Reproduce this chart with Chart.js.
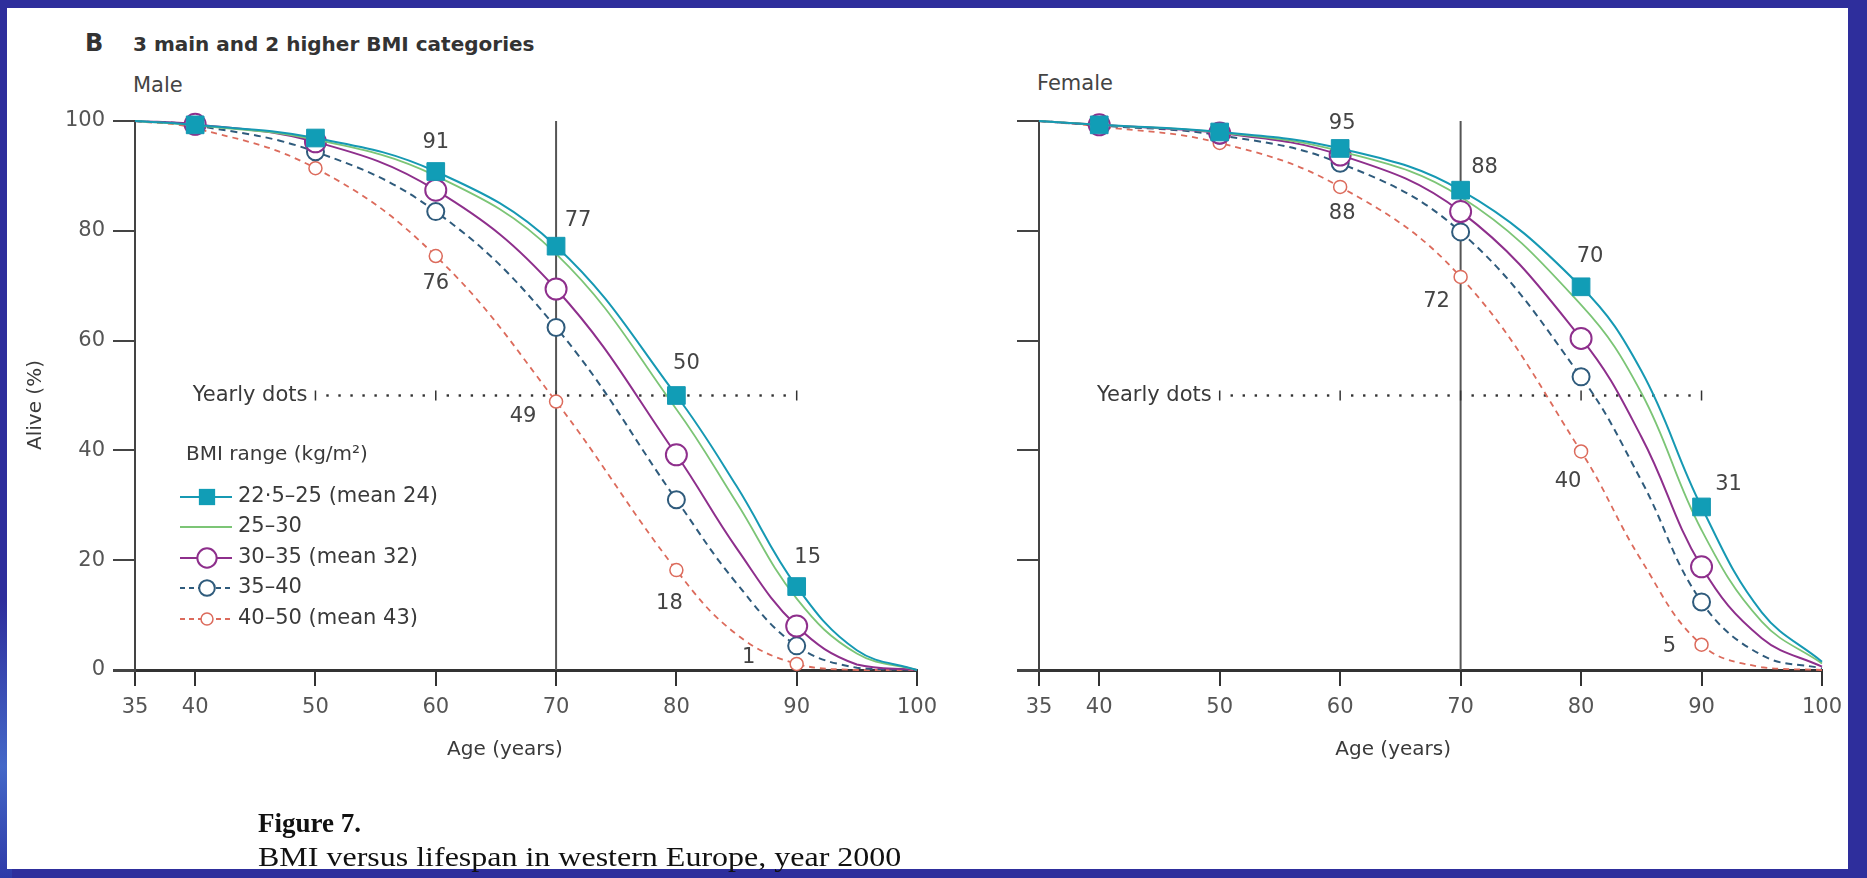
<!DOCTYPE html>
<html>
<head>
<meta charset="utf-8">
<script src="https://cdn.jsdelivr.net/npm/chart.js@4.4.1/dist/chart.umd.min.js"></script>
<style>
  html, body { margin: 0; padding: 0; }
  body { width: 1867px; height: 878px; overflow: hidden; position: relative; background: #2e2e9c; font-family: 'DejaVu Sans', sans-serif; }
  #glow { position: absolute; left: 0; top: 600px; width: 12px; height: 278px; background: linear-gradient(to bottom, #2e2e9c, #4468c8 60%, #2e3aa8); }
  #page { position: absolute; left: 7px; top: 8px; width: 1841px; height: 861px; background: #fff; }
  canvas { position: absolute; top: 0; }
  .txt { position: absolute; white-space: nowrap; color: #3a3a3a; }
  .cap { font-family: 'Liberation Serif', 'Times New Roman', serif; color: #111; font-size: 27px; line-height: 30px; }
</style>
</head>
<body>
<div id="glow"></div>
<div id="page"></div>

<div class="txt" style="left:85px; top:29px; font-size:24px; line-height:28px; font-weight:bold; color:#333;">B</div>
<div class="txt" style="left:133px; top:32px; font-size:20px; line-height:24px; font-weight:bold; color:#333;">3 main and 2 higher BMI categories</div>
<div class="txt" style="left:133px; top:72px; font-size:21px; line-height:26px; color:#444;">Male</div>
<div class="txt" style="left:1037px; top:70px; font-size:21px; line-height:26px; color:#444;">Female</div>

<canvas id="maleChart" width="960" height="878" style="left:0px;"></canvas>
<canvas id="femaleChart" width="934" height="878" style="left:933px;"></canvas>

<div class="txt cap" style="left:258px; top:808px; font-weight:bold;">Figure 7.</div>
<div class="txt cap" style="left:258px; top:842px; transform: scaleX(1.185); transform-origin: left center;">BMI versus lifespan in western Europe, year 2000</div>

<script>
// ---- data ----
const ages = [35, 40, 50, 60, 70, 80, 85, 90, 95, 100];
const markerAges = [40, 50, 60, 70, 80, 90];
const xTicks = [35, 40, 50, 60, 70, 80, 90, 100];
const seriesNames = ['22·5–25 (mean 24)', '25–30', '30–35 (mean 32)', '35–40', '40–50 (mean 43)'];

const maleBmi22 = [100, 99.3, 96.9, 90.8, 77.2, 50.0, 33.5, 15.2, 3.6, 0];
const maleBmi25 = [100, 99.2, 96.6, 90.0, 75.8, 47.5, 30.5, 13.0, 3.0, 0];
const maleBmi30 = [100, 99.4, 96.2, 87.4, 69.4, 39.2, 22.2, 8.0, 1.0, 0];
const maleBmi35 = [100, 99.2, 94.4, 83.5, 62.4, 31.0, 15.8, 4.4, 0.4, 0];
const maleBmi40 = [100, 98.7, 91.4, 75.4, 48.9, 18.2, 6.5, 1.1, 0, 0];

const femaleBmi22 = [100, 99.3, 98.0, 95.0, 87.4, 69.8, 54.5, 29.7, 10.5, 1.5];
const femaleBmi25 = [100, 99.3, 97.9, 94.5, 86.2, 66.5, 50.5, 25.5, 8.8, 1.2];
const femaleBmi30 = [100, 99.3, 97.8, 93.8, 83.5, 60.4, 42.5, 18.8, 5.8, 0.6];
const femaleBmi35 = [100, 99.2, 97.4, 92.3, 79.8, 53.4, 34.5, 12.4, 2.7, 0.3];
const femaleBmi40 = [100, 99.0, 96.0, 88.0, 71.6, 39.8, 20.0, 4.6, 0.5, 0];

const guideAge = 70;
const yearlyDotRange = [50, 90];
const yearlyDotLevel = 50;

// value callouts: which series, at which age, what text; dx/dy are pixel offsets from the marker
const maleCallouts = [
  { s: 0, age: 60, text: '91', dx: 0, dy: -29 },
  { s: 0, age: 70, text: '77', dx: 22, dy: -26 },
  { s: 0, age: 80, text: '50', dx: 10, dy: -32 },
  { s: 0, age: 90, text: '15', dx: 11, dy: -29 },
  { s: 4, age: 60, text: '76', dx: 0, dy: 27 },
  { s: 4, age: 70, text: '49', dx: -33, dy: 15 },
  { s: 4, age: 80, text: '18', dx: -7, dy: 33 },
  { s: 4, age: 90, text: '1', dx: -48, dy: -6 }
];
const femaleCallouts = [
  { s: 0, age: 60, text: '95', dx: 2, dy: -25 },
  { s: 0, age: 70, text: '88', dx: 24, dy: -23 },
  { s: 0, age: 80, text: '70', dx: 9, dy: -30 },
  { s: 0, age: 90, text: '31', dx: 27, dy: -22 },
  { s: 4, age: 60, text: '88', dx: 2, dy: 27 },
  { s: 4, age: 70, text: '72', dx: -24, dy: 25 },
  { s: 4, age: 80, text: '40', dx: -13, dy: 30 },
  { s: 4, age: 90, text: '5', dx: -32, dy: 2 }
];

// ---- styles ----
const seriesStyles = [
  { color: '#1699b3', width: 2, dash: [], marker: 'rect', radius: 12.5, fill: '#119db6', border: 1 },
  { color: '#7cc576', width: 1.8, dash: [], marker: null },
  { color: '#8e2f8c', width: 2, dash: [], marker: 'circle', radius: 10.5, fill: '#fff', border: 2 },
  { color: '#2f5b7c', width: 2, dash: [7, 5], marker: 'circle', radius: 8.5, fill: '#fff', border: 2 },
  { color: '#dc6b5c', width: 1.8, dash: [6, 5], marker: 'circle', radius: 6.5, fill: '#fff', border: 1.5 }
];
const FONT = "'DejaVu Sans', sans-serif";
Chart.defaults.font.family = FONT;

function buildDatasets(values) {
  return values.map((vals, i) => {
    const st = seriesStyles[i];
    return {
      label: seriesNames[i],
      data: ages.map((a, j) => ({ x: a, y: vals[j] })),
      borderColor: st.color,
      borderWidth: st.width,
      borderDash: st.dash,
      tension: 0.4,
      fill: false,
      clip: false,
      pointStyle: st.marker || 'circle',
      pointRadius: c => (st.marker && markerAges.includes(ages[c.dataIndex])) ? st.radius : 0,
      pointBackgroundColor: st.fill || '#fff',
      pointBorderColor: st.color,
      pointBorderWidth: st.border || 1
    };
  });
}

function drawMarker(ctx, st, x, y) {
  ctx.save();
  ctx.setLineDash([]);
  ctx.lineWidth = st.border;
  ctx.strokeStyle = st.color;
  ctx.fillStyle = st.fill;
  if (st.marker === 'rect') {
    const h = st.radius * Math.SQRT1_2;
    ctx.fillRect(x - h, y - h, 2 * h, 2 * h);
  } else if (st.marker === 'circle') {
    ctx.beginPath();
    ctx.arc(x, y, st.radius, 0, Math.PI * 2);
    ctx.fill();
    ctx.stroke();
  }
  ctx.restore();
}

const decorPlugin = {
  id: 'decor',
  beforeDatasetsDraw(chart, args, opts) {
    const { ctx, scales: { x, y } } = chart;
    ctx.save();
    // vertical guide at 70 years
    const gx = x.getPixelForValue(guideAge);
    ctx.strokeStyle = '#555';
    ctx.lineWidth = 2;
    ctx.beginPath();
    ctx.moveTo(gx, y.getPixelForValue(100));
    ctx.lineTo(gx, y.getPixelForValue(0));
    ctx.stroke();

    // yearly dots
    const yy = y.getPixelForValue(yearlyDotLevel);
    ctx.fillStyle = '#333';
    ctx.strokeStyle = '#333';
    ctx.lineWidth = 1.5;
    for (let yr = yearlyDotRange[0]; yr <= yearlyDotRange[1]; yr++) {
      const xx = x.getPixelForValue(yr);
      if (yr % 10 === 0) {
        ctx.beginPath();
        ctx.moveTo(xx, yy - 5);
        ctx.lineTo(xx, yy + 5);
        ctx.stroke();
      } else {
        ctx.fillRect(xx - 1.2, yy - 1.2, 2.4, 2.4);
      }
    }
    ctx.fillStyle = '#3a3a3a';
    ctx.font = '21px ' + FONT;
    ctx.textAlign = 'right';
    ctx.textBaseline = 'middle';
    ctx.fillText('Yearly dots', x.getPixelForValue(yearlyDotRange[0]) - 8, yy);
    ctx.restore();
  },
  afterDatasetsDraw(chart, args, opts) {
    const { ctx, scales: { x, y } } = chart;
    ctx.save();
    ctx.fillStyle = '#444';
    ctx.font = '21px ' + FONT;
    ctx.textAlign = 'center';
    ctx.textBaseline = 'middle';
    opts.callouts.forEach(c => {
      const vals = opts.values[c.s];
      const v = vals[ages.indexOf(c.age)];
      ctx.fillText(c.text, x.getPixelForValue(c.age) + c.dx, y.getPixelForValue(v) + c.dy);
    });

    // axis titles
    ctx.fillStyle = '#3a3a3a';
    ctx.font = '20px ' + FONT;
    ctx.fillText('Age (years)', x.getPixelForValue(opts.titleAge), chart.chartArea.bottom + 80);
    if (opts.yTitle) {
      ctx.save();
      ctx.translate(36, 405);
      ctx.rotate(-Math.PI / 2);
      ctx.fillText(opts.yTitle, 0, 0);
      ctx.restore();
    }

    // legend
    if (opts.legend) {
      ctx.textAlign = 'left';
      ctx.fillStyle = '#3a3a3a';
      ctx.font = '20px ' + FONT;
      ctx.fillText('BMI range (kg/m²)', 186, 455);
      ctx.font = '21px ' + FONT;
      const rows = [497, 527, 558, 588, 619];
      seriesStyles.forEach((st, i) => {
        const ly = rows[i];
        ctx.save();
        ctx.strokeStyle = st.color;
        ctx.lineWidth = Math.min(st.width, 1.8);
        ctx.setLineDash(st.dash.length ? [5, 4] : []);
        ctx.beginPath();
        ctx.moveTo(180, ly);
        ctx.lineTo(232, ly);
        ctx.stroke();
        ctx.restore();
        if (st.marker) drawMarker(ctx, Object.assign({}, st, { radius: st.radius * 0.92 }), 207, ly);
        ctx.fillStyle = '#3a3a3a';
        ctx.fillText(seriesNames[i], 238, ly);
      });
    }
    ctx.restore();
  }
};

function makeOptions(cfg) {
  return {
    responsive: false,
    animation: false,
    events: [],
    layout: { padding: { left: 0, top: 121, right: cfg.padRight, bottom: 148 } },
    plugins: {
      legend: { display: false },
      tooltip: { enabled: false },
      decor: { callouts: cfg.callouts, values: cfg.values, legend: cfg.legend, yTitle: cfg.yTitle, titleAge: cfg.titleAge }
    },
    scales: {
      x: {
        type: 'linear',
        min: 35,
        max: 100,
        afterBuildTicks: s => { s.ticks = xTicks.map(v => ({ value: v })); },
        afterFit: s => { s.height = 60; },
        grid: { drawOnChartArea: false, drawTicks: true, tickLength: 16, color: '#333', lineWidth: 2 },
        border: { color: '#333', width: 3 },
        ticks: { color: '#555', font: { size: 21 }, padding: 9, autoSkip: false, maxRotation: 0 }
      },
      y: {
        min: 0,
        max: 100,
        afterFit: s => { s.width = cfg.yWidth; },
        grid: { drawOnChartArea: false, drawTicks: true, tickLength: 22, color: '#444',
                lineWidth: c => (c.tick && c.tick.value === 0) ? 3 : 2 },
        border: { color: '#444', width: 2 },
        ticks: { stepSize: 20, color: '#555', font: { size: 21 }, padding: 8, display: cfg.yLabels }
      }
    }
  };
}

const maleValues = [maleBmi22, maleBmi25, maleBmi30, maleBmi35, maleBmi40];
const femaleValues = [femaleBmi22, femaleBmi25, femaleBmi30, femaleBmi35, femaleBmi40];

new Chart(document.getElementById('maleChart'), {
  type: 'line',
  data: { datasets: buildDatasets(maleValues) },
  options: makeOptions({ padRight: 43, yWidth: 135, yLabels: true, legend: true, yTitle: 'Alive (%)', titleAge: 65.75,
                         callouts: maleCallouts, values: maleValues }),
  plugins: [decorPlugin]
});

new Chart(document.getElementById('femaleChart'), {
  type: 'line',
  data: { datasets: buildDatasets(femaleValues) },
  options: makeOptions({ padRight: 45, yWidth: 106, yLabels: false, legend: false, yTitle: null, titleAge: 64.4,
                         callouts: femaleCallouts, values: femaleValues }),
  plugins: [decorPlugin]
});
</script>
</body>
</html>
